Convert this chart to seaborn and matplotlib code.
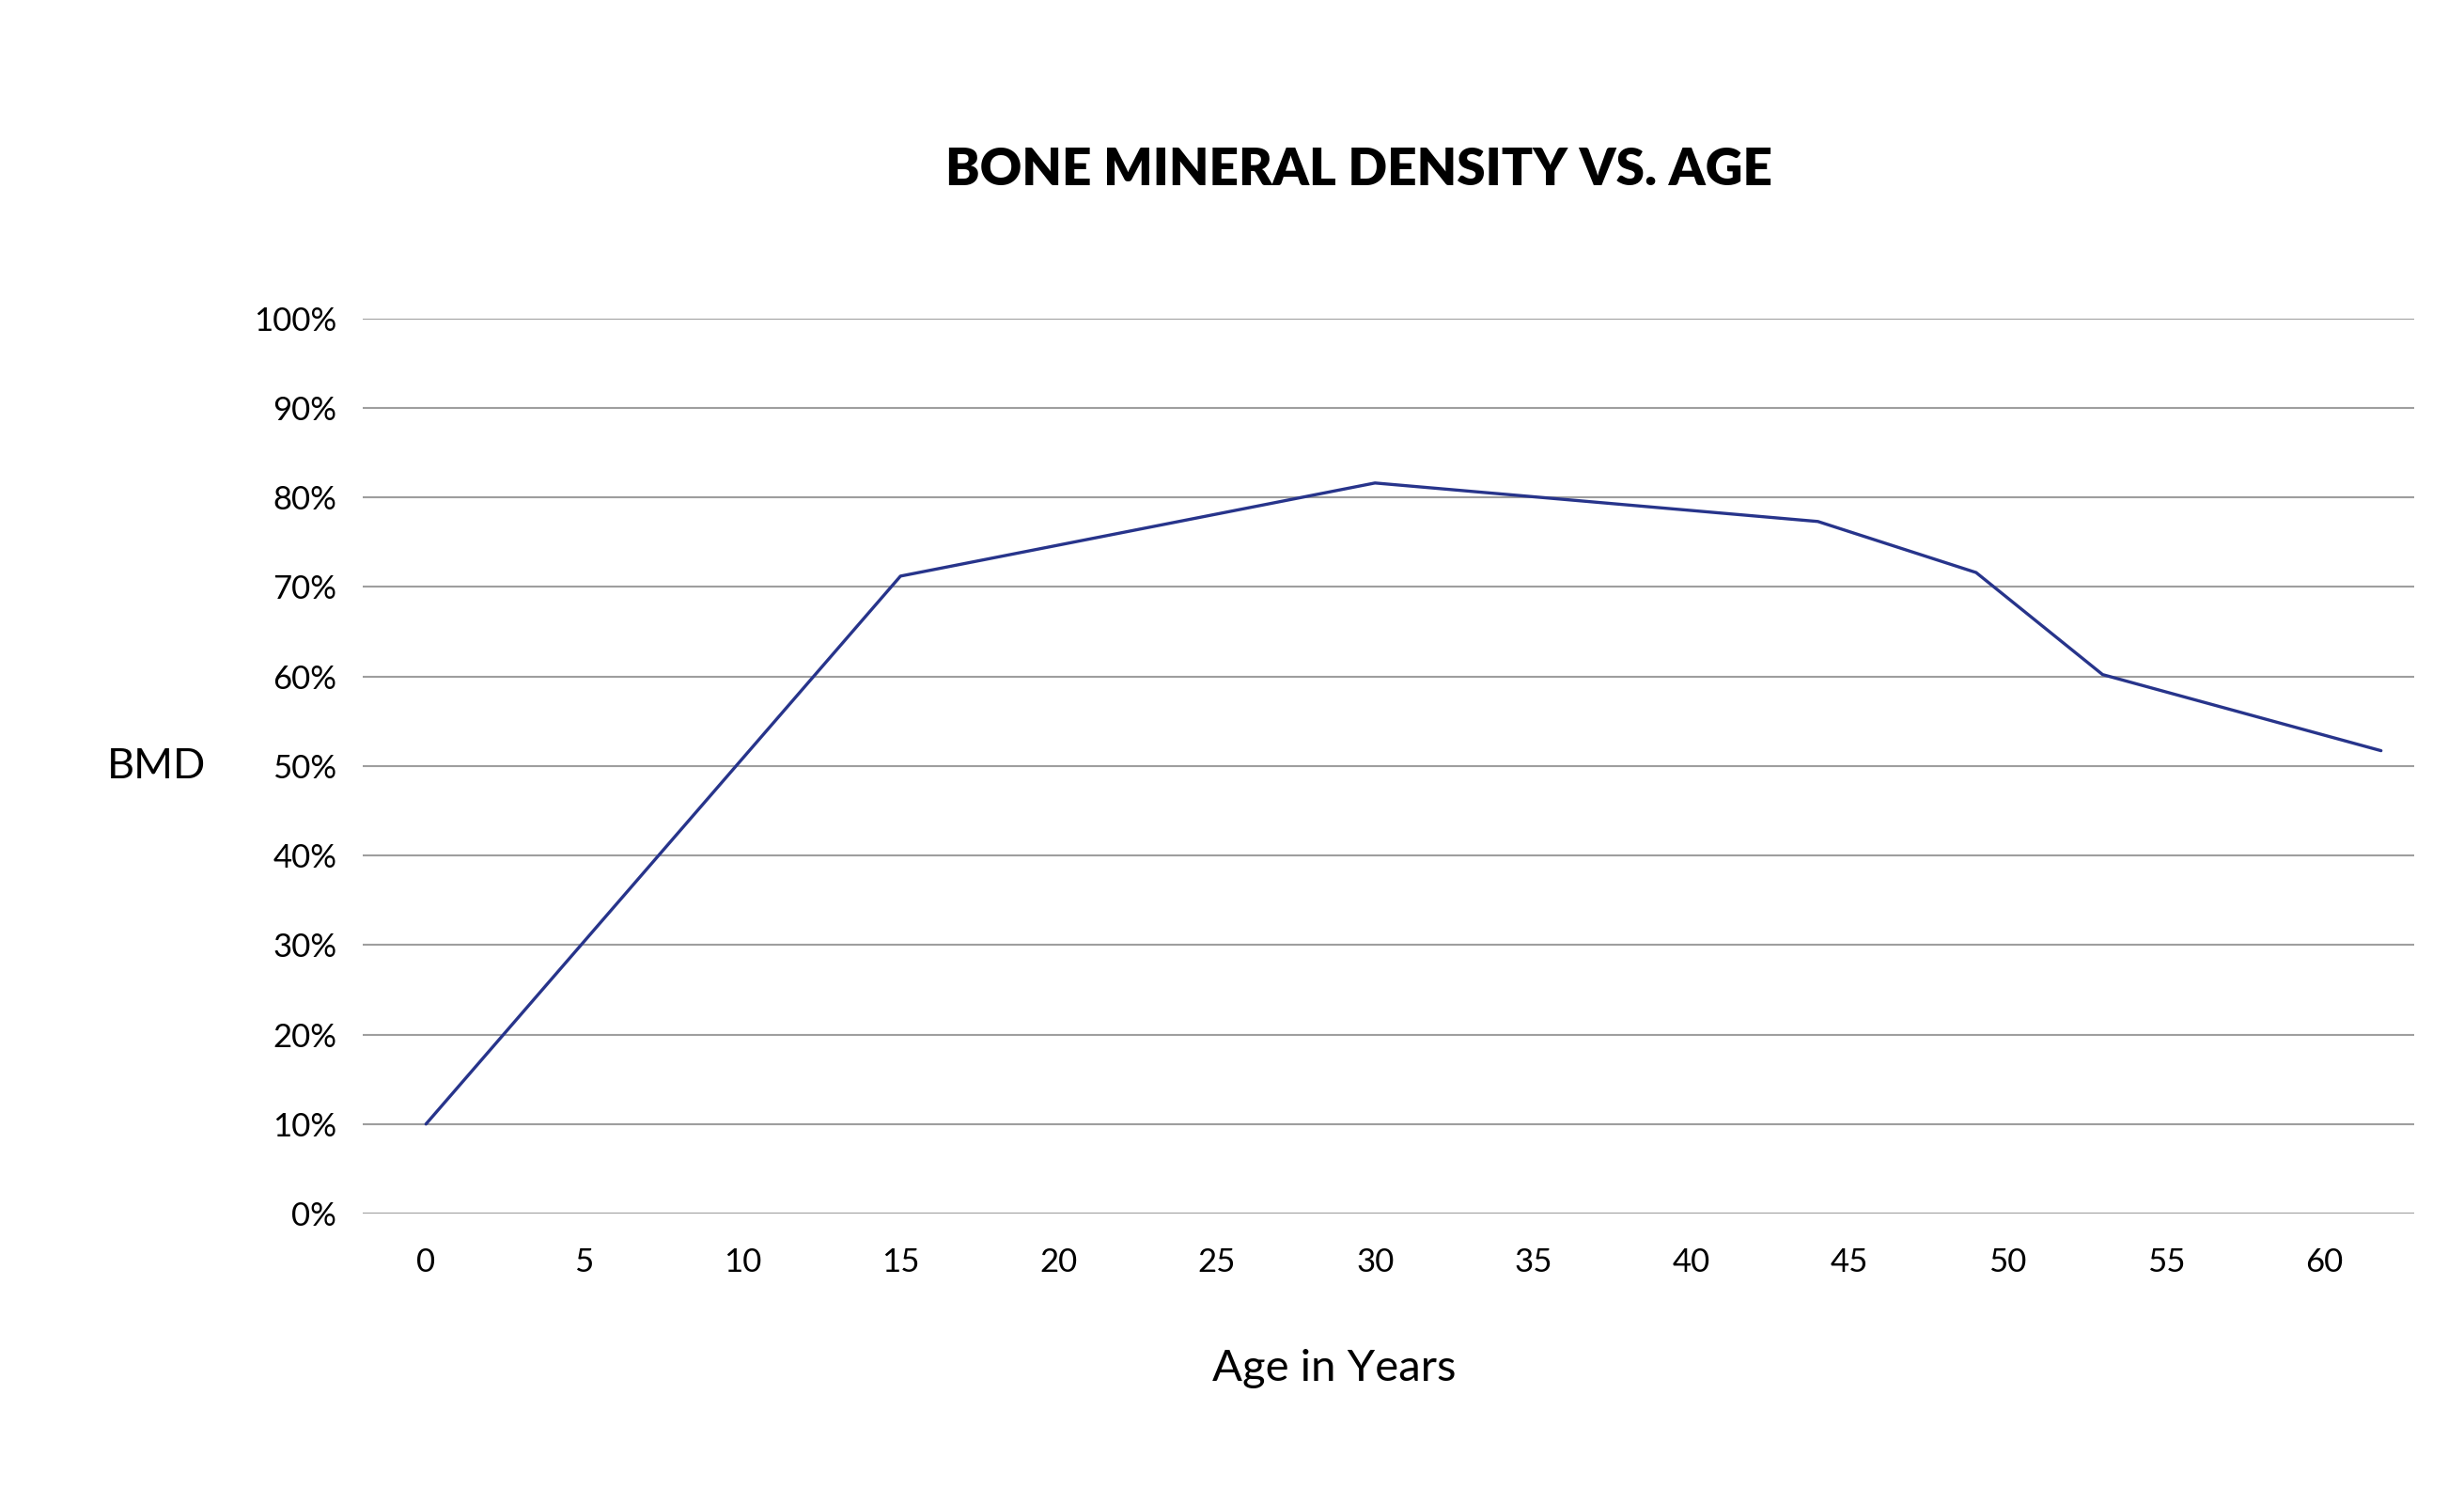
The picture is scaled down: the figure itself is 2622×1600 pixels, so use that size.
import matplotlib
matplotlib.use("Agg")
import matplotlib.pyplot as plt
import seaborn as sns
import pandas as pd

ages = [0, 15, 30, 44, 49, 53, 61.8]
bmd = [10, 71.2, 81.6, 77.3, 71.6, 60.2, 51.7]
x_ticks = [0, 5, 10, 15, 20, 25, 30, 35, 40, 45, 50, 55, 60]
y_ticks = [0, 10, 20, 30, 40, 50, 60, 70, 80, 90, 100]

title = "BONE MINERAL DENSITY VS. AGE"
x_label = "Age in Years"
y_label = "BMD"

sns.set_theme(style="white")
plt.rcParams['font.family'] = ['Lato', 'DejaVu Sans']

df = pd.DataFrame({"Age": ages, "BMD": bmd})

fig = plt.figure(figsize=(26.22, 16), dpi=100)
ax = fig.add_axes([0.1472, 0.1931, 0.9798 - 0.1472, 0.7884 - 0.1931])

sns.lineplot(data=df, x="Age", y="BMD", ax=ax, color="#27348b", linewidth=2.4,
             sort=False, zorder=3)

ax.set_xlim(-2.0, 62.85)
ax.set_ylim(0, 100)
ax.set_yticks(y_ticks)
ax.set_yticklabels([f"{v}%" for v in y_ticks])
ax.set_xticks(x_ticks)
ax.set_xticklabels([str(v) for v in x_ticks])

for v in y_ticks:
    ax.axhline(v, color="#9e9e9e", linewidth=1.5, zorder=1)

for s in ax.spines.values():
    s.set_visible(False)
ax.grid(False)
ax.tick_params(axis="y", length=0, pad=20, labelsize=25, colors="black")
ax.tick_params(axis="x", length=0, pad=26, labelsize=25, colors="black")

ax.set_xlabel("")
ax.set_ylabel("")
fig.text(1420 / 2622, 1 - 1456 / 1600, x_label, ha="center", va="center",
         fontsize=34, color="black")
fig.text(166 / 2622, 1 - 815 / 1600, y_label, ha="center", va="center",
         fontsize=32.5, color="black")
fig.text(1446 / 2622, 1 - 181 / 1600, title, ha="center", va="center",
         fontsize=39.5, fontweight="heavy", color="black")

fig.savefig("out.png", dpi=100, facecolor="white")
